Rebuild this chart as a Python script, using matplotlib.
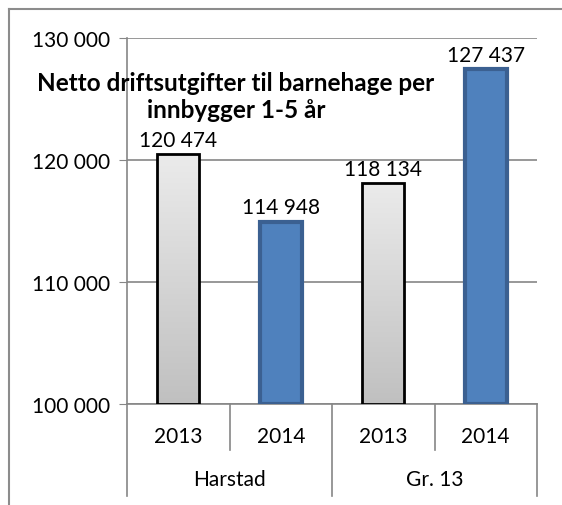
import numpy as np
import matplotlib.pyplot as plt
from matplotlib.lines import Line2D

plt.rcParams['font.family'] = ['Lato', 'DejaVu Sans']

years = ['2013', '2014', '2013', '2014']
groups = ['Harstad', 'Gr. 13']
values = [120474, 114948, 118134, 127437]
labels = ['120 474', '114 948', '118 134', '127 437']
yticks = [100000, 110000, 120000, 130000]
ytick_labels = ['100 000', '110 000', '120 000', '130 000']
title = 'Netto driftsutgifter til barnehage per\ninnbygger 1-5 år'

fig = plt.figure(figsize=(5.62, 5.06), dpi=100)
ax = fig.add_axes([127/562, 1-405/506, 410/562, 366/506])

x = np.arange(len(values))
w = 0.41
grad = np.linspace(0, 1, 256).reshape(-1, 1)
cm = plt.matplotlib.colors.LinearSegmentedColormap.from_list('g', ['#c0c0c0', '#ebebeb'])
for i, v in enumerate(values):
    if years[i] == '2013':
        b = ax.bar(x[i], v - 100000, w, bottom=100000, facecolor='none',
                   edgecolor='black', linewidth=2, zorder=4)[0]
        im = ax.imshow(grad, cmap=cm, extent=[x[i]-w/2, x[i]+w/2, 100000, v],
                       origin='lower', aspect='auto', zorder=3)
        im.set_clip_path(b)
    else:
        ax.bar(x[i], v - 100000, w, bottom=100000, color='#4f81bd',
               edgecolor='#3b6091', linewidth=3, zorder=3)
    ax.annotate(labels[i], (x[i], v), xytext=(0, 3), textcoords='offset points',
                ha='center', va='bottom', fontsize=15, zorder=5)

ax.set_xlim(-0.5, 3.5)
ax.set_ylim(100000, 130000)
ax.set_yticks(yticks)
ax.set_yticklabels(ytick_labels, fontsize=15)
ax.tick_params(axis='y', length=6, color='#868686', pad=6)
ax.set_xticks([])
ax.grid(axis='y', color='#868686', linewidth=1.2, zorder=0)
ax.set_axisbelow(True)
for s in ['top', 'right']:
    ax.spines[s].set_visible(False)
for s in ['left', 'bottom']:
    ax.spines[s].set_color('#868686')
    ax.spines[s].set_linewidth(1.2)

# category axis with two levels
for i, yr in enumerate(years):
    ax.text(x[i], -0.087, yr, transform=ax.get_xaxis_transform(), ha='center',
            va='center', fontsize=15)
for j, g in enumerate(groups):
    ax.text(0.5 + 2*j, -0.205, g, transform=ax.get_xaxis_transform(), ha='center',
            va='center', fontsize=15)
for k in [0.5, 2.5]:
    ax.add_line(Line2D([k, k], [0, -0.126], transform=ax.get_xaxis_transform(),
                       color='#868686', lw=1.2, clip_on=False))
for k in [-0.5, 1.5, 3.5]:
    ax.add_line(Line2D([k, k], [0, -0.251], transform=ax.get_xaxis_transform(),
                       color='#868686', lw=1.2, clip_on=False))

fig.text(236/562, 1-97/506, title, ha='center', va='center', fontsize=17.5,
         fontweight='bold', linespacing=1.25)

# outer frame (left and top only visible)
fig.add_artist(Line2D([9/562, 9/562], [0, 1-10/506], color='#8c8c8c', lw=1.5))
fig.add_artist(Line2D([9/562, 1], [1-10/506, 1-10/506], color='#8c8c8c', lw=1.5))

fig.savefig('out.png', dpi=100)
